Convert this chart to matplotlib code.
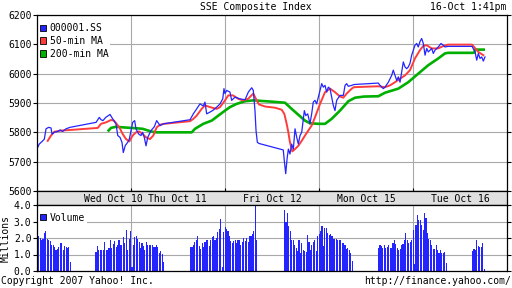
import matplotlib
matplotlib.use('Agg')
import matplotlib.pyplot as plt
from matplotlib.patches import Patch

plt.rcParams['font.family'] = 'DejaVu Sans Mono'
plt.rcParams['font.size'] = 7

# time axis: days from Wed Oct 10 00:00 (US Eastern), non-trading time compressed
price_t = [0.000, 0.024, 0.061, 0.078, 0.096, 0.124, 0.149, 0.160, 0.184, 0.220, 0.245, 0.273, 0.309, 0.351,
           0.628, 0.663, 0.681, 0.702, 0.731, 0.777, 0.805, 0.840, 0.859, 0.883, 0.904, 0.918, 0.939, 0.965,
           0.982, 1.000, 1.018, 1.039, 1.053, 1.082, 1.106, 1.124, 1.141, 1.160, 1.178, 1.213, 1.248, 1.273,
           1.309, 1.344,
           1.628, 1.663, 1.699, 1.734, 1.769, 1.787, 1.805, 1.840, 1.872, 1.912, 1.947, 1.976, 1.989, 2.000,
           2.018, 2.053, 2.071, 2.106, 2.160, 2.213, 2.248, 2.284, 2.301, 2.319, 2.330, 2.344, 2.362,
           2.620, 2.631, 2.646, 2.660, 2.674, 2.691, 2.709, 2.727, 2.745, 2.763, 2.780, 2.798, 2.816, 2.844,
           2.859, 2.880, 2.904, 2.922, 2.939, 2.957, 2.975, 2.993, 3.011, 3.029, 3.046, 3.064, 3.082, 3.099,
           3.117, 3.135, 3.152, 3.170, 3.188, 3.223, 3.259, 3.277, 3.294, 3.312, 3.348, 3.372,
           3.631, 3.649, 3.684, 3.702, 3.738, 3.773, 3.790, 3.809, 3.827, 3.844, 3.862, 3.880, 3.897, 3.915,
           3.933, 3.950, 3.968, 3.986, 4.003, 4.021, 4.039, 4.056, 4.074, 4.092, 4.110, 4.128, 4.146, 4.163,
           4.181, 4.199, 4.216, 4.234, 4.269, 4.298, 4.322, 4.340, 4.372,
           4.628, 4.660, 4.678, 4.695, 4.713, 4.731, 4.748, 4.766]
price = [5744, 5760, 5771, 5777, 5812, 5817, 5815, 5794, 5800, 5803, 5808, 5803, 5812, 5817,
         5834, 5851, 5843, 5840, 5851, 5861, 5846, 5829, 5789, 5783, 5766, 5731, 5755, 5766,
         5777, 5806, 5834, 5840, 5812, 5794, 5789, 5800, 5783, 5754, 5783, 5806, 5819, 5840,
         5823, 5829,
         5843, 5863, 5880, 5897, 5890, 5903, 5863, 5869, 5875, 5886, 5897, 5914, 5949, 5932,
         5943, 5937, 5909, 5920, 5914, 5911, 5937, 5952, 5943, 5874, 5806, 5766, 5762,
         5740, 5703, 5659, 5709, 5743, 5726, 5760, 5743, 5812, 5783, 5760, 5789, 5800, 5874,
         5857, 5863, 5829, 5863, 5903, 5909, 5897, 5920, 5943, 5966, 5954, 5960, 5937, 5954,
         5949, 5920, 5892, 5874, 5909, 5926, 5926, 5960, 5966, 5957, 5960, 5963,
         5968, 5960, 5949, 5954, 5971, 5994, 6012, 5994, 5977, 5989, 5971, 6006, 6040, 6023,
         6017, 6023, 6035, 6063, 6080, 6097, 6103, 6091, 6109, 6120, 6103, 6063, 6086, 6074,
         6080, 6086, 6069, 6080, 6091, 6103, 6097, 6091, 6093,
         6093, 6074, 6046, 6069, 6052, 6057, 6043, 6057]

ma50_t = [0.114, 0.149, 0.184, 0.255, 0.351, 0.646, 0.681, 0.734, 0.787, 0.819, 0.876, 0.912, 0.947,
          0.982, 1.018, 1.053, 1.088, 1.124, 1.160, 1.202, 1.237, 1.273, 1.309, 1.351, 1.628, 1.660,
          1.699, 1.752, 1.787, 1.840, 1.912, 1.947, 2.000, 2.035, 2.085, 2.142, 2.191, 2.245, 2.301,
          2.337, 2.362, 2.426, 2.532, 2.603, 2.631, 2.656, 2.674, 2.691, 2.716, 2.745, 2.780, 2.816,
          2.851, 2.886, 2.922, 2.957, 3.011, 3.064, 3.117, 3.170, 3.223, 3.259, 3.294, 3.348, 3.372,
          3.631, 3.702, 3.755, 3.809, 3.862, 3.915, 3.968, 4.021, 4.074, 4.110, 4.146, 4.199, 4.266,
          4.322, 4.372, 4.628, 4.695, 4.748]
ma50 = [5771, 5789, 5802, 5806, 5808, 5815, 5829, 5834, 5842, 5840, 5817, 5794, 5777,
        5769, 5789, 5800, 5803, 5794, 5783, 5777, 5789, 5817, 5826, 5829, 5838, 5845,
        5857, 5880, 5892, 5886, 5880, 5886, 5909, 5926, 5926, 5914, 5909, 5914, 5932,
        5909, 5895, 5888, 5884, 5877, 5863, 5829, 5800, 5766, 5735, 5743, 5754, 5771,
        5789, 5806, 5823, 5851, 5897, 5937, 5949, 5937, 5922, 5918, 5932, 5949, 5954,
        5957, 5954, 5960, 5971, 5983, 5994, 6012, 6052, 6080, 6095, 6097, 6086, 6086,
        6094, 6099, 6099, 6074, 6063]

ma200_t = [0.752, 0.787, 0.840, 0.912, 1.053, 1.124, 1.213, 1.266, 1.646, 1.681, 1.769, 1.859, 1.929,
           2.000, 2.053, 2.124, 2.213, 2.301, 2.479, 2.638, 2.709, 2.780, 2.851, 2.904, 2.993, 3.064,
           3.135, 3.223, 3.312, 3.383, 3.479, 3.631, 3.702, 3.844, 3.950, 4.056, 4.163, 4.269, 4.340,
           4.372, 4.628, 4.655, 4.660, 4.766]
ma200 = [5803, 5815, 5819, 5817, 5814, 5812, 5803, 5800, 5800, 5812, 5829, 5840, 5857,
         5874, 5886, 5897, 5906, 5909, 5905, 5901, 5880, 5860, 5840, 5831, 5829, 5829,
         5846, 5874, 5906, 5918, 5922, 5923, 5935, 5949, 5971, 6000, 6029, 6052, 6069,
         6071, 6071, 6072, 6082, 6082]

# 5-minute volume bars (millions), one list per trading session
session_open = [-0.37, 0.622, 1.628, 2.628, 3.628, 4.628]
first_bar = [24, 0, 0, 0, 0, 0]
bar_step = 0.0153
vol_sessions = [
    [1.45, 2.1, 2.0, 1.9, 1.95, 2.3, 2.4, 1.95, 1.85, 1.8, 1.55, 1.6, 1.45, 1.3, 1.35, 1.45,
     1.7, 1.7, 1.3, 1.5, 1.45, 1.4, 1.45, 0.55],
    [1.15, 1.5, 1.25, 1.3, 1.3, 1.25, 1.75, 1.3, 1.25, 1.4, 1.85, 1.4, 1.65, 1.8, 1.45, 1.55,
     1.9, 1.6, 1.55, 2.05, 1.7, 2.5, 1.3, 1.95, 2.4, 0.25, 1.6, 2.05, 2.15, 1.95, 1.75, 1.4,
     1.7, 1.5, 1.3, 1.75, 1.6, 1.55, 1.6, 1.55, 1.45, 1.45, 1.6, 1.45, 1.1, 1.2, 1.05, 0.55],
    [1.45, 1.45, 1.6, 1.75, 1.85, 2.1, 1.5, 1.35, 1.7, 1.45, 1.75, 1.9, 1.85, 1.5, 1.85, 2.05,
     2.1, 1.9, 2.0, 2.35, 2.55, 3.15, 0.25, 2.35, 2.65, 2.55, 2.4, 2.1, 1.8, 1.7, 1.8, 1.85,
     1.7, 1.85, 1.85, 1.6, 1.75, 2.0, 1.8, 2.0, 1.75, 2.1, 2.15, 2.25, 2.4, 4.0, 1.9, 0.0],
    [3.7, 3.0, 3.5, 2.7, 2.45, 1.85, 1.85, 1.55, 1.4, 1.2, 1.85, 1.1, 1.7, 1.3, 1.2, 1.15,
     2.2, 1.75, 1.3, 1.6, 1.75, 1.9, 1.2, 2.15, 2.25, 2.4, 2.75, 1.5, 2.6, 2.6, 2.3, 2.2,
     2.25, 2.1, 1.95, 1.95, 1.95, 1.85, 1.9, 1.85, 1.7, 1.7, 1.55, 1.35, 1.4, 1.25, 1.1, 0.6],
    [1.4, 1.55, 1.5, 1.4, 1.6, 1.4, 1.45, 1.55, 1.4, 1.4, 1.7, 1.85, 1.65, 1.4, 1.25, 1.35,
     1.55, 1.65, 1.85, 2.3, 1.9, 1.7, 1.75, 1.85, 2.5, 0.45, 2.8, 3.4, 3.1, 3.1, 2.8, 2.5,
     3.5, 3.2, 2.3, 1.95, 1.85, 1.55, 1.35, 1.35, 1.55, 1.25, 1.1, 1.3, 1.1, 1.1, 1.15, 0.5],
    [1.2, 1.35, 1.3, 1.85, 1.5, 1.45, 1.45, 1.7, 0.1],
]

day_labels = ['Wed Oct 10', 'Thu Oct 11', 'Fri Oct 12', 'Mon Oct 15', 'Tue Oct 16']
day_label_pos = [0.81, 1.49, 2.5, 3.5, 4.5]
price_ticks = [5600, 5700, 5800, 5900, 6000, 6100, 6200]
vol_ticks = [0, 1, 2, 3, 4]

BLUE = '#2424ff'
RED = '#ff3c3c'
GREEN = '#00b000'
GRID = '#a8a8a8'

W, H = 512, 288
fig = plt.figure(figsize=(W / 100, H / 100), dpi=100)
fig.patch.set_facecolor('white')


def box(x0, y0, x1, y1):
    return [x0 / W, 1 - y1 / H, (x1 - x0) / W, (y1 - y0) / H]


ax = fig.add_axes(box(37, 15, 507, 191))
band = fig.add_axes(box(37, 191, 507, 205))
axv = fig.add_axes(box(37, 205, 507, 271))

# price panel
ax.plot(ma200_t, ma200, color=GREEN, lw=1.9, solid_capstyle='butt', zorder=3)
ax.plot(ma50_t, ma50, color=RED, lw=1.4, zorder=4)
ax.plot(price_t, price, color=BLUE, lw=0.9, zorder=5)
ax.set_xlim(0, 5)
ax.set_ylim(5600, 6200)
ax.set_yticks(price_ticks)
ax.set_xticks([1, 2, 3, 4])
ax.set_xticklabels([])
ax.tick_params(axis='x', direction='in', length=2.5, width=0.8, color='black')
ax.tick_params(axis='y', direction='out', length=3, width=0.8, pad=1,
               left=True, right=True, labelleft=True)
ax.grid(True, color=GRID, lw=0.8)
ax.set_axisbelow(True)

handles = [Patch(facecolor=BLUE, edgecolor='black', lw=0.6, label='000001.SS'),
           Patch(facecolor=RED, edgecolor='black', lw=0.6, label='50-min MA'),
           Patch(facecolor=GREEN, edgecolor='black', lw=0.6, label='200-min MA')]
leg = ax.legend(handles=handles, loc='upper left', bbox_to_anchor=(0, 0.97), fontsize=7,
                frameon=True, fancybox=False, framealpha=1, facecolor='white', edgecolor='none',
                handlelength=0.65, handleheight=0.65, handletextpad=0.35, labelspacing=0.3,
                borderpad=0.2, borderaxespad=0.1)
leg.set_zorder(6)

# date band
band.set_facecolor('#e0e0e0')
band.set_xlim(0, 5)
band.set_ylim(0, 1)
band.set_xticks([])
band.set_yticks([])
for pos, lab in zip(day_label_pos, day_labels):
    band.text(pos, 0.45, lab, ha='center', va='center', fontsize=7)

# volume panel
for start, first, vals in zip(session_open, first_bar, vol_sessions):
    xs = [start + (first + i) * bar_step for i in range(len(vals))]
    axv.bar(xs, vals, width=0.0118, align='edge', color=BLUE, lw=0, zorder=3)
axv.set_xlim(0, 5)
axv.set_ylim(0, 4)
axv.set_yticks(vol_ticks)
axv.set_yticklabels(['%.1f' % v for v in vol_ticks])
axv.set_xticks([1, 2, 3, 4])
axv.set_xticklabels([])
axv.tick_params(axis='x', length=0)
axv.tick_params(axis='y', direction='out', length=3, width=0.8, pad=1,
                left=True, right=True, labelleft=True)
axv.grid(True, color=GRID, lw=0.8)
axv.set_axisbelow(True)
axv.set_ylabel('Millions', fontsize=7, labelpad=2)
vleg = axv.legend(handles=[Patch(facecolor=BLUE, edgecolor='black', lw=0.6, label='Volume')],
                  loc='upper left', bbox_to_anchor=(0, 0.93), fontsize=7, frameon=True,
                  fancybox=False, framealpha=1, facecolor='white', edgecolor='none',
                  handlelength=0.65, handleheight=0.65, handletextpad=0.35, borderpad=0.2,
                  borderaxespad=0.1)
vleg.set_zorder(6)

for a in (ax, band, axv):
    for s in a.spines.values():
        s.set_color('black')
        s.set_linewidth(0.9)
        s.set_zorder(7)

fig.text(255.5 / W, 1 - 7 / H, 'SSE Composite Index', ha='center', va='center', fontsize=7)
fig.text(506 / W, 1 - 7 / H, '16-Oct 1:41pm', ha='right', va='center', fontsize=7)
fig.text(1 / W, 1 - 281 / H, 'Copyright 2007 Yahoo! Inc.', ha='left', va='center', fontsize=7)
fig.text(511 / W, 1 - 281 / H, 'http://finance.yahoo.com/', ha='right', va='center', fontsize=7)

fig.savefig('out.png', dpi=100)
